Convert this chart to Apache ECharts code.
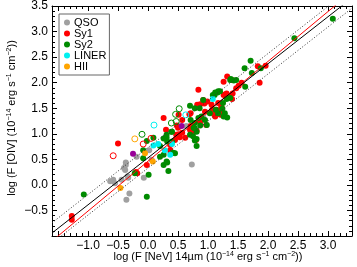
<!DOCTYPE html>
<html><head><meta charset="utf-8">
<script src="https://cdn.jsdelivr.net/npm/echarts@6/dist/echarts.min.js"></script>
<style>html,body{margin:0;padding:0;background:#fff}#c{width:357px;height:267px}</style>
</head><body><div id="c"></div>
<script>
// ---- data (log F[NeV] 14um, log F[OIV]) ----
const qso = [[-0.63,0.07],[-0.55,0.03],[-0.58,0.10],[-0.44,0.10],[-0.34,0.17],[-0.33,0.14],
  [-0.37,0.44],[-0.37,0.39],[-0.40,0.33],[-0.38,0.29],[-0.31,-0.17],[-0.36,-0.29],
  [-0.19,0.55],[-0.07,0.14],[0.06,0.49],[0.02,0.68],[0.73,0.40],[0.64,1.15],[0.92,1.34]];
const sy1 = [[-1.27,-0.61],[-1.27,-0.68],[-0.50,0.81],[-0.20,0.25],[-0.18,0.23],[-0.02,0.39],
  [0.26,1.31],[0.84,1.86],[0.51,1.37],[0.71,1.40],[0.82,1.57],[0.87,1.58],[0.99,1.63],
  [1.26,2.02],[1.32,2.12],[1.51,1.94],[1.47,1.89],[1.26,1.76],[1.28,1.77],[1.31,1.79],[1.41,1.79],
  [1.83,2.32],[1.96,2.33],[1.86,2.00],[1.40,2.05],[1.56,2.00],[0.94,1.59],[0.92,1.66],[1.33,1.73],[1.40,1.68],
  [1.07,1.47],[0.97,1.17],[0.87,1.23],[0.70,1.08],[0.57,1.02],[0.47,0.98],[0.62,0.92],[0.77,1.04],
  [0.50,1.12],[0.37,0.78],[0.95,1.43],[0.80,0.88],[0.57,1.27],[0.30,1.08],[0.37,0.68],[0.45,0.88],
  [0.51,0.99],[0.53,0.93],[0.48,1.16],[0.71,1.15],[1.06,1.57],[1.17,1.60],[1.20,1.45],[1.23,1.50],
  [1.10,1.38],[1.14,1.47],[1.21,1.37],[1.12,1.34],[1.22,1.53],[0.69,1.38],[0.86,1.24],[0.72,1.04],[0.81,1.06]];
const sy2 = [[-1.07,-0.19],[3.08,3.25],[2.44,2.87],[1.71,2.43],[1.61,2.28],[1.73,2.19],[1.88,2.28],[1.62,1.92],
  [1.38,2.07],[1.43,2.04],[1.47,2.05],[1.37,2.05],[1.17,1.83],[1.11,1.76],[1.31,1.68],[1.25,1.60],
  [1.20,1.83],[1.37,1.70],[1.08,1.76],[1.12,1.81],[1.16,1.81],[0.70,1.55],[0.78,1.50],[0.92,1.66],[0.86,1.50],
  [0.75,0.95],[0.81,0.90],[0.78,0.87],[0.81,0.76],[-0.02,-0.23],[-0.22,0.23],[0.01,0.20],[-0.08,0.68],
  [-0.02,0.86],[-0.08,0.52],[0.26,0.39],[0.32,0.44],[0.34,0.27],[0.71,1.27],[0.78,1.21],[0.84,1.31],
  [0.87,1.16],[0.76,1.12],[0.95,1.27],[0.98,1.17],[0.89,1.34],[1.03,1.40],[1.13,1.47],[1.17,1.40],
  [1.24,1.49],[1.28,1.40],[1.26,1.34],[1.32,1.32],[0.45,0.62],[0.26,0.59],[0.20,0.55],[0.39,1.04],
  [0.31,0.98],[0.26,0.91],[0.32,0.85],[0.70,0.98],[0.81,1.04],[0.78,1.11],[0.09,0.92],[0.20,0.76],
  [0.31,0.92],[0.31,0.46],[0.42,0.63],[0.40,0.85],[0.40,1.04]];
const liner = [[1.08,1.68],[0.09,0.77],[0.17,0.80],[0.28,0.68],[0.37,0.59],[0.40,0.80]];
const hii = [[-0.46,-0.06],[-0.05,0.62],[0.08,0.46]];
const other = [[-0.25,0.61],[0.56,1.15]];
const sy1Open = [[-0.58,0.57],[-0.08,0.80],[0.05,0.91]];
const sy2Open = [[-0.10,0.99],[0.52,1.49],[0.46,1.38],[0.39,1.21],[0.47,1.24]];
const linerOpen = [[0.10,1.17],[0.63,1.37]];
const hiiOpen = [[-0.22,0.90]];
// fitted relations (endpoints at the axis limits)
const fitBlack = [[-1.6,-0.942],[3.4,3.658]];
const fitRed = [[-1.6,-1.098],[3.4,3.782]];
const bandUpper = [[-1.6,-0.742],[3.4,3.858]];
const bandLower = [[-1.6,-1.142],[3.4,3.458]];
// ticks
const xMajor = [-1.5,-1.0,-0.5,0,0.5,1.0,1.5,2.0,2.5,3.0];
const xLabelVals = [-1.0,-0.5,0,0.5,1.0,1.5,2.0,2.5,3.0];
const yMajor = [-1.0,-0.5,0,0.5,1.0,1.5,2.0,2.5,3.0,3.5];
const yLabelVals = [-0.5,0,0.5,1.0,1.5,2.0,2.5,3.0,3.5];
const X_MIN=-1.6, X_MAX=3.4, Y_MIN=-1.0, Y_MAX=3.5;

function minors(a,b){const r=[];for(let v=Math.round(a*10);v<=Math.round(b*10);v++)r.push(v/10);return r;}
const xMinor = minors(X_MIN,X_MAX), yMinor = minors(Y_MIN,Y_MAX);
const FONT = "'Liberation Sans', Arial, sans-serif";
const fmt = v => (v<0?'\u2212':'') + Math.abs(v).toFixed(1);

function axis(kind, pos, ticks, len, labels, line){
  const isX = kind==='x';
  return {
    type:'value', position:pos, min:isX?X_MIN:Y_MIN, max:isX?X_MAX:Y_MAX,
    axisLine:{show:line, onZero:false, lineStyle:{color:'#000',width:1}},
    axisTick:{show:true, inside:true, length:len, customValues:ticks, lineStyle:{color:'#000',width:1}},
    axisLabel:{show:!!labels, customValues:labels||[], formatter:fmt, color:'#000', fontSize:12,
               fontFamily:FONT, margin:4},
    splitLine:{show:false}
  };
}
const xAxes=[axis('x','bottom',xMajor,5,xLabelVals,true),axis('x','bottom',xMinor,3,null,false),
             axis('x','top',xMajor,5,null,true),axis('x','top',xMinor,3,null,false)];
const yAxes=[axis('y','left',yMajor,5,yLabelVals,true),axis('y','left',yMinor,3,null,false),
             axis('y','right',yMajor,5,null,true),axis('y','right',yMinor,3,null,false)];

const filled=(name,data,color)=>({name,type:'scatter',data,symbol:'circle',symbolSize:6,
  itemStyle:{color,opacity:1},z:3,animation:false});
const open=(name,data,color)=>({name,type:'scatter',data,symbol:'circle',symbolSize:6,
  itemStyle:{color:'rgba(0,0,0,0)',borderColor:color,borderWidth:1,opacity:1},z:3,animation:false});
const line=(name,data,color,type)=>({name,type:'line',data,symbol:'none',clip:true,z:5,animation:false,
  lineStyle:{color,width:1,type},silent:true});

const C={qso:'#a0a0a0',sy1:'#ff0000',sy2:'#008b00',liner:'#00f0f0',hii:'#ffa500',other:'#990099'};
const chart=echarts.init(document.getElementById('c'),null,{renderer:'canvas'});
chart.setOption({
  animation:false,
  grid:{left:52,right:5,top:6,bottom:31,containLabel:false},
  xAxis:xAxes, yAxis:yAxes,
  legend:{data:['QSO','Sy1','Sy2','LINER','HII'],orient:'vertical',left:59,top:14,
    icon:'circle',itemWidth:6,itemHeight:6,itemGap:0,
    padding:[3,3,3,5],borderColor:'#666',borderWidth:1,backgroundColor:'#fff',
    textStyle:{fontSize:11,lineHeight:10.3,fontFamily:FONT,color:'#000',padding:[0,0,0,-1]},selectedMode:false},
  graphic:[
    {type:'text',x:208,y:257,style:{text:'{n|log (F [NeV] 14\u00b5m (10}{s|\u221214}{n| erg s}{s|\u22121}{n| cm}{s|\u22122}{n|))}',
      align:'center',verticalAlign:'middle',fill:'#000',
      rich:{n:{fontSize:11,fontFamily:FONT,lineHeight:13},s:{fontSize:7,fontFamily:FONT,lineHeight:8,verticalAlign:'top'}}}},
    {type:'text',x:12,y:118,rotation:Math.PI/2,style:{text:'{n|log (F [OIV] (10}{s|\u221214}{n| erg s}{s|\u22121}{n| cm}{s|\u22122}{n|))}',
      align:'center',verticalAlign:'middle',fill:'#000',
      rich:{n:{fontSize:11,fontFamily:FONT,lineHeight:13},s:{fontSize:7,fontFamily:FONT,lineHeight:8,verticalAlign:'top'}}}}
  ],
  series:[
    filled('QSO',qso,C.qso), filled('Sy1',sy1,C.sy1), filled('Sy2',sy2,C.sy2),
    filled('LINER',liner,C.liner), filled('HII',hii,C.hii), filled('other',other,C.other),
    open('Sy1 open',sy1Open,C.sy1), open('Sy2 open',sy2Open,C.sy2),
    open('LINER open',linerOpen,C.liner), open('HII open',hiiOpen,C.hii),
    line('band+',bandUpper,'#333',[1,2]), line('band-',bandLower,'#333',[1,2]),
    line('fit red',fitRed,'#ff0000','solid'), line('fit',fitBlack,'#000','solid')
  ]
});
</script></body></html>
